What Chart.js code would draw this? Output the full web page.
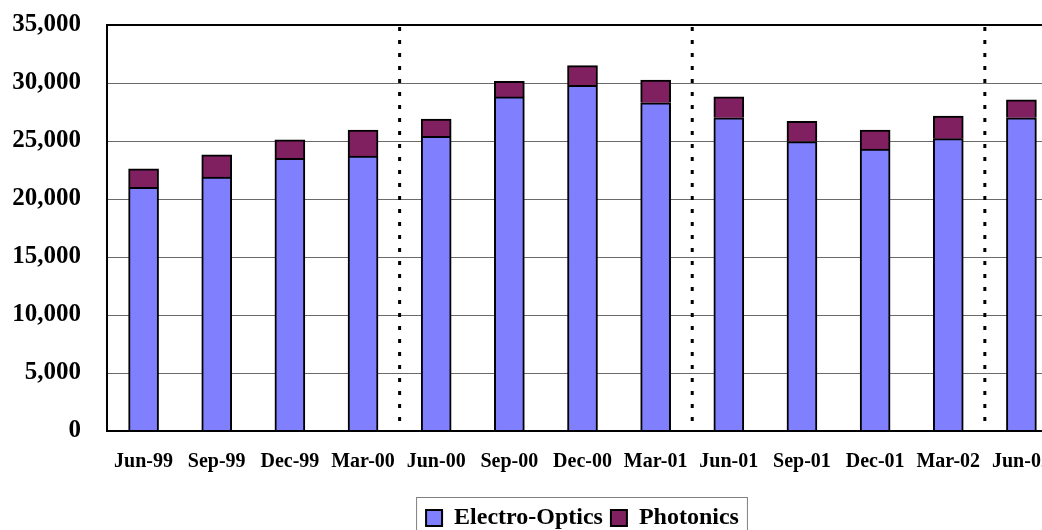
<!DOCTYPE html>
<html>
<head>
<meta charset="utf-8">
<script src="https://cdn.jsdelivr.net/npm/chart.js@4"></script>
<style>
  html, body { margin: 0; padding: 0; background: #fff; overflow: hidden; }
  #wrap { position: relative; width: 1100px; height: 544px; }
</style>
</head>
<body>
<div id="wrap"><canvas id="chart"></canvas></div>
<script>
// Quarterly figures
const quarters = ['Jun-99', 'Sep-99', 'Dec-99', 'Mar-00', 'Jun-00', 'Sep-00', 'Dec-00',
                  'Mar-01', 'Jun-01', 'Sep-01', 'Dec-01', 'Mar-02', 'Jun-02'];
const electroOptics = [21000, 21900, 23500, 23700, 25400, 28800, 29800,
                       28300, 27000, 24950, 24300, 25200, 27000];
const photonics = [1600, 1900, 1600, 2250, 1500, 1350, 1700,
                   1950, 1800, 1750, 1650, 1950, 1550];
const yTicks = [0, 5000, 10000, 15000, 20000, 25000, 30000, 35000];

const serif = 'Liberation Serif, Times New Roman, serif';

// dotted lines in front of each June (start of a fiscal year)
const yearLines = {
  id: 'yearLines',
  afterDatasetsDraw(chart) {
    const { ctx, chartArea, scales } = chart;
    const x = scales.x;
    ctx.save();
    ctx.strokeStyle = '#000';
    ctx.lineWidth = 3;
    ctx.setLineDash([4, 9]);
    quarters.forEach((q, i) => {
      if (i === 0 || !q.startsWith('Jun')) return;
      const px = (x.getPixelForValue(i - 1) + x.getPixelForValue(i)) / 2;
      ctx.beginPath();
      ctx.moveTo(px, chartArea.top + 2);
      ctx.lineTo(px, chartArea.bottom);
      ctx.stroke();
    });
    ctx.restore();
  }
};

// black frame round the plot and grey frame round the legend
const frames = {
  id: 'frames',
  afterDraw(chart) {
    const { ctx, chartArea, legend } = chart;
    ctx.save();
    ctx.strokeStyle = '#000';
    ctx.lineWidth = 2;
    ctx.strokeRect(chartArea.left, chartArea.top, chartArea.right - chartArea.left, chartArea.bottom - chartArea.top);
    const hb = legend.legendHitBoxes;
    if (hb && hb.length) {
      const first = hb[0], last = hb[hb.length - 1];
      const cy = first.top + first.height / 2;
      ctx.strokeStyle = '#808080';
      ctx.lineWidth = 1;
      ctx.strokeRect(first.left - 9.5, cy - 20.5, (last.left + last.width) - first.left + 18, 50);
    }
    ctx.restore();
  }
};

new Chart(document.getElementById('chart'), {
  type: 'bar',
  data: {
    labels: quarters,
    datasets: [{
      label: 'Electro-Optics',
      data: electroOptics,
      backgroundColor: '#8080FF',
      borderColor: '#000',
      borderWidth: 2,
      barThickness: 30
    }, {
      label: 'Photonics',
      data: photonics,
      backgroundColor: '#802060',
      borderColor: '#000',
      borderWidth: 2,
      barThickness: 30
    }]
  },
  options: {
    responsive: true,
    maintainAspectRatio: false,
    animation: false,
    layout: { padding: { left: 0, right: 42, top: 25, bottom: 4 } },
    plugins: {
      tooltip: { enabled: false },
      legend: {
        position: 'bottom',
        fullSize: false,
        labels: {
          color: '#000',
          font: { family: serif, size: 24, weight: 'bold' },
          boxWidth: 16,
          boxHeight: 16,
          padding: 8
        }
      }
    },
    scales: {
      x: {
        stacked: true,
        afterFit(scale) { scale.height += 13; },
        grid: { display: false },
        border: { color: '#000', width: 2 },
        ticks: {
          color: '#000',
          font: { family: serif, size: 20, weight: 'bold' },
          padding: 11,
          maxRotation: 0,
          autoSkip: false
        }
      },
      y: {
        stacked: true,
        min: 0,
        max: 35000,
        afterFit(scale) { scale.width = 107; },
        afterBuildTicks(scale) { scale.ticks = yTicks.map(v => ({ value: v })); },
        grid: { color: '#6a6a6a', lineWidth: 1, tickLength: 26, tickColor: 'rgba(0,0,0,0)' },
        border: { color: '#000', width: 2 },
        ticks: {
          color: '#000',
          font: { family: serif, size: 25, weight: 'bold' },
          padding: 0,
          callback: v => v.toLocaleString('en-US')
        }
      }
    }
  },
  plugins: [yearLines, frames]
});
</script>
</body>
</html>
